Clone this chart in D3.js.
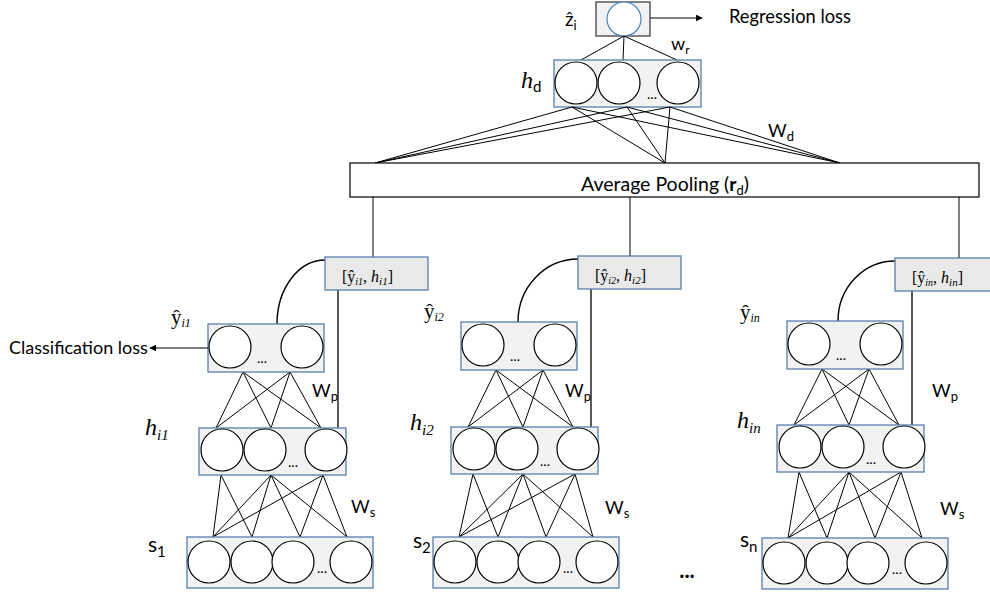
<!DOCTYPE html>
<html>
<head>
<meta charset="utf-8">
<script src="https://cdn.jsdelivr.net/npm/d3@7"></script>
<style>
  body { margin: 0; background: #fff; }
  svg { display: block; }
</style>
</head>
<body>
<script>
// ---- content (labels / structure) ----
const columnIds   = ["1", "2", "n"];          // sentence index per column
const predSubs    = ["i1", "i2", "in"];       // ŷ subscripts
const hiddenSubs  = ["i1", "i2", "in"];       // h subscripts
const yhatNodes   = [0, 1];                   // visible output nodes
const hiddenNodes = [0, 1, 2];                // visible hidden nodes
const sentNodes   = [0, 1, 2, 3];             // visible input nodes
const hdNodes     = [0, 1, 2];                // document hidden nodes
const poolTargets = [0, 1, 2];                // attach points on pooling box
const hsEdges     = [[0,0],[0,1],[1,0],[1,1],[1,2],[1,3],[2,0],[2,2],[2,3]];
const textRegression = "Regression loss";
const textClassification = "Classification loss";
const textPooling = "Average Pooling (";

// ---- layout ----
const W = 990, H = 592;
const SANS = "Lato, 'Open Sans', sans-serif";
const SERIF = "'Liberation Serif', 'DejaVu Serif', serif";
const BOX_FILL = "#f2f2f2", BOX_STROKE = "#5a7fae", CAT_FILL = "#e9e9e9";

const cols = [
  {ybox:[208,324], hbox:[199,428], sbox:[187,537], cat:[325,257,103], poolX:373, catLineX:338, curveEnd:277,
   ylab:[171,324], hlab:[145,435], slab:[148,552], wp:[312,397], ws:[351,513]},
  {ybox:[461,322], hbox:[451,427], sbox:[433,537], cat:[578,256,103], poolX:630, catLineX:591, curveEnd:518,
   ylab:[424,318], hlab:[410,430], slab:[413,548], wp:[565,397], ws:[605,514]},
  {ybox:[787,321], hbox:[777,425], sbox:[762,538], cat:[895,258,104], poolX:959, catLineX:912, curveEnd:838,
   ylab:[740,319], hlab:[737,428], slab:[740,547], wp:[932,397], ws:[940,515]}
];

// node x-position scales inside each layer box (relative to box left)
const yCirc = d3.scaleOrdinal().domain(yhatNodes).range([22, 94]);
const hCirc = d3.scaleOrdinal().domain(hiddenNodes).range([23, 66, 127]);
const sCirc = d3.scaleOrdinal().domain(sentNodes).range([22, 65, 106, 164]);
const yBot  = d3.scaleOrdinal().domain(yhatNodes).range([35, 82]);
const hTop  = d3.scaleOrdinal().domain(hiddenNodes).range([17, 72, 122]);
const hBot  = d3.scaleOrdinal().domain(hiddenNodes).range([22, 72, 124]);
const sTop  = d3.scaleOrdinal().domain(sentNodes).range([26, 65, 113, 160]);
const hdX   = d3.scaleOrdinal().domain(hdNodes).range([576, 619, 678]);
const hdSrc = d3.scaleOrdinal().domain(hdNodes).range([572, 627, 670]);
const poolX = d3.scaleOrdinal().domain(poolTargets).range([375, 665, 840]);

const svg = d3.select("body").append("svg").attr("width", W).attr("height", H);

svg.append("defs").append("marker")
  .attr("id", "arr").attr("viewBox", "0 0 10 10").attr("refX", 9).attr("refY", 5)
  .attr("markerWidth", 7).attr("markerHeight", 7).attr("orient", "auto-start-reverse")
  .attr("markerUnits", "userSpaceOnUse")
  .append("path").attr("d", "M0,0 L10,5 L0,10 z").attr("fill", "#000");

function rect(x, y, w, h, fill, stroke, sw) {
  return svg.append("rect").attr("x", x).attr("y", y).attr("width", w).attr("height", h)
    .attr("fill", fill).attr("stroke", stroke).attr("stroke-width", sw || 1.3);
}
function circ(cx, cy, r, stroke) {
  return svg.append("circle").attr("cx", cx).attr("cy", cy).attr("r", r)
    .attr("fill", "#fff").attr("stroke", stroke || "#000").attr("stroke-width", 1.2);
}
function line(x1, y1, x2, y2, sw) {
  return svg.append("line").attr("x1", x1).attr("y1", y1).attr("x2", x2).attr("y2", y2)
    .attr("stroke", "#000").attr("stroke-width", sw || 1);
}
function rich(x, y, parts, base) {
  const t = svg.append("text").attr("x", x).attr("y", y)
    .attr("font-family", base.family).attr("font-size", base.size)
    .attr("text-anchor", base.anchor || "start").attr("fill", "#000");
  let shift = 0;
  parts.forEach(p => {
    const ts = t.append("tspan").text(p.t);
    const target = p.sub ? (p.shift != null ? p.shift : base.size * 0.28) : 0;
    ts.attr("dy", target - shift); shift = target;
    if (p.size) ts.attr("font-size", p.size);
    else if (p.sub) ts.attr("font-size", base.size * 0.68);
    if (p.italic) ts.attr("font-style", "italic");
    if (p.bold) ts.attr("font-weight", "bold");
    if (p.family) ts.attr("font-family", p.family);
  });
  return t;
}
function dots(x, y, size) {
  return svg.append("text").attr("x", x).attr("y", y).attr("text-anchor", "middle")
    .attr("font-family", SANS).attr("font-size", size || 14).text("...");
}

// ---------------- top: regression output ----------------
rect(596, 2, 54, 34, BOX_FILL, "#333", 1.2);
circ(624, 19, 17, "#4a7ebb");
rich(565, 26, [{t: "\u1E91"}, {t: "i", sub: true, shift: 4, size: 13}], {family: SANS, size: 19});
line(650, 18, 702, 18, 1.2).attr("marker-end", "url(#arr)");
rich(729, 23, [{t: textRegression}], {family: SANS, size: 18.3});

// z -> h_d
hdNodes.forEach(i => line(624, 36, [581, 623, 677][i], 60));
rich(671, 50, [{t: "w"}, {t: "r", sub: true, shift: 4, size: 12}], {family: SANS, size: 18});

// h_d layer
rect(554, 60, 147, 47, BOX_FILL, BOX_STROKE);
hdNodes.forEach(i => circ(hdX(i), 83, 21));
dots(652, 99, 14);
rich(521, 88, [{t: "h", italic: true, family: SERIF}, {t: "d", sub: true, family: SANS, shift: 4, size: 15}],
     {family: SANS, size: 24});

// h_d -> pooling (fully connected)
hdNodes.forEach(i => poolTargets.forEach(j => line(hdSrc(i), 107, poolX(j), 163)));
rich(768, 137, [{t: "W"}, {t: "d", sub: true, shift: 4, size: 13}], {family: SANS, size: 18});

// pooling box
rect(350, 163, 629, 34, "#fff", "#000", 1.2);
rich(665, 191, [{t: textPooling}, {t: "r", bold: true}, {t: "d", sub: true, shift: 4, size: 13}, {t: ")"}],
     {family: SANS, size: 19.5, anchor: "middle"});

// ---------------- columns ----------------
cols.forEach((c, k) => {
  const [yx, yy] = c.ybox, [hx, hy] = c.hbox, [sx, sy] = c.sbox;
  const [cx, cy, cw] = c.cat;

  // pooling -> concat box
  line(c.poolX, 197, c.poolX, cy);
  // concat -> h layer (vertical)
  line(c.catLineX, cy + 33, c.catLineX, hy, 1.3);
  // curve from concat box to yhat box
  const rx = cx - c.curveEnd, ry = yy - (cy + 3);
  svg.append("path").attr("d", `M${cx},${cy + 3} A${rx},${ry} 0 0 0 ${c.curveEnd},${yy}`)
    .attr("fill", "none").attr("stroke", "#000").attr("stroke-width", 1.4);

  // yhat -> h edges
  yhatNodes.forEach(a => hiddenNodes.forEach(b => line(yx + yBot(a), yy + 48, hx + hTop(b), hy)));
  // h -> s edges
  hsEdges.forEach(([a, b]) => line(hx + hBot(a), hy + 47, sx + sTop(b), sy));

  // concat box
  rect(cx, cy, cw, 33, CAT_FILL, BOX_STROKE);
  rich(cx + 17, cy + 25, [
    {t: "[\u0177", family: SERIF},
    {t: predSubs[k], sub: true, italic: true, shift: 3, size: 10},
    {t: ", ", family: SERIF},
    {t: "h", italic: true, family: SERIF},
    {t: hiddenSubs[k], sub: true, italic: true, shift: 3, size: 11},
    {t: "]", family: SERIF}
  ], {family: SERIF, size: 16});

  // yhat layer
  rect(yx, yy, 116, 48, BOX_FILL, BOX_STROKE);
  yhatNodes.forEach(i => circ(yx + yCirc(i), yy + 23, 21));
  dots(yx + 54, yy + 39, 14);
  rich(c.ylab[0], c.ylab[1], [{t: "\u0177", family: SERIF}, {t: predSubs[k], sub: true, italic: true, shift: 3, size: 12}],
       {family: SERIF, size: 21});

  // h layer
  rect(hx, hy, 147, 47, BOX_FILL, BOX_STROKE);
  hiddenNodes.forEach(i => circ(hx + hCirc(i), hy + 22, 21));
  dots(hx + 94, hy + 39, 14);
  rich(c.hlab[0], c.hlab[1], [{t: "h", italic: true}, {t: hiddenSubs[k], sub: true, italic: true, shift: 5, size: 15}],
       {family: SERIF, size: 24});

  // s layer
  rect(sx, sy, 186, 51, BOX_FILL, BOX_STROKE);
  sentNodes.forEach(i => circ(sx + sCirc(i), sy + 25, 21));
  dots(sx + 135, sy + 36, 14);
  rich(c.slab[0], c.slab[1], [{t: "s"}, {t: columnIds[k], sub: true, shift: 5, size: 15}], {family: SANS, size: 21});

  // weight labels
  rich(c.wp[0], c.wp[1], [{t: "W"}, {t: "p", sub: true, shift: 4, size: 13}], {family: SANS, size: 18});
  rich(c.ws[0], c.ws[1], [{t: "W"}, {t: "s", sub: true, shift: 4, size: 13}], {family: SANS, size: 18});
});

// classification loss arrow (from first column's yhat box)
line(cols[0].ybox[0], 348, 150, 348, 1.2).attr("marker-end", "url(#arr)");
rich(9, 354, [{t: textClassification}], {family: SANS, size: 18});

// ellipsis between columns
svg.append("text").attr("x", 687).attr("y", 578).attr("text-anchor", "middle")
  .attr("font-family", SANS).attr("font-size", 22).attr("font-weight", "bold").text("...");
</script>
</body>
</html>
